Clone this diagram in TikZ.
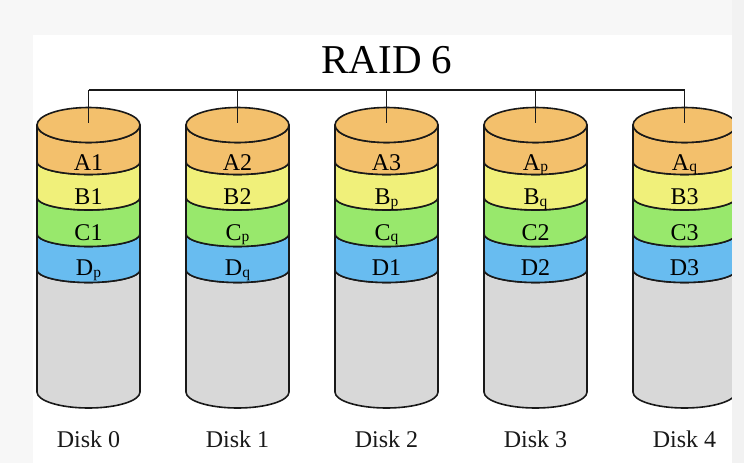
\documentclass[tikz,border=0pt]{standalone}
\usepackage{fontspec}
\setmainfont{Liberation Serif}
\definecolor{cA}{RGB}{243,192,108}
\definecolor{cB}{RGB}{240,240,122}
\definecolor{cC}{RGB}{152,232,108}
\definecolor{cD}{RGB}{104,188,240}
\definecolor{cG}{RGB}{216,216,216}
\definecolor{lineC}{RGB}{25,25,25}
\definecolor{bgTop}{RGB}{247,247,247}
\definecolor{bgRight}{RGB}{242,242,242}
\newcommand{\lowsub}[1]{\raisebox{-1.5pt}{\fontsize{15.5}{15.5}\selectfont #1}}
\newcommand{\band}[5]{%
  \filldraw[fill=#1, edge] (-51.5,#2) -- (-51.5,#4)
    arc[start angle=180,end angle=0,x radius=51.5,y radius=#5]
    -- (51.5,#2)
    arc[start angle=0,end angle=180,x radius=51.5,y radius=#3] -- cycle;}
\begin{document}
\begin{tikzpicture}[x=1pt,y=-1pt,
  edge/.style={draw=lineC, line width=1.6pt, line join=round},
  lab/.style={font=\fontsize{24}{24}\selectfont, text=black, inner sep=0pt, anchor=base},
  dlab/.style={font=\fontsize{24}{24}\selectfont, text=black!90, inner sep=0pt, anchor=base}]
\useasboundingbox (0,0) rectangle (744,463);
\fill[bgTop] (0,0) rectangle (744,463);
\fill[white] (33,35) rectangle (744,463);
\node[font=\fontsize{41}{41}\selectfont, inner sep=0pt, anchor=base] (title) at (387,73) {RAID 6};
\foreach \i/\a/\b/\c/\d in {0/A1/B1/C1/{D\lowsub{p}},
                            1/A2/B2/{C\lowsub{p}}/{D\lowsub{q}},
                            2/A3/{B\lowsub{p}}/{C\lowsub{q}}/D1,
                            3/{A\lowsub{p}}/{B\lowsub{q}}/C2/D2,
                            4/{A\lowsub{q}}/B3/C3/D3}{
  \pgfmathsetmacro\cx{88.5+149*\i}
  \begin{scope}[xshift=\cx pt]
    \band{cG}{270}{12.5}{392}{16}
    \band{cD}{234}{12.5}{270}{12.5}
    \band{cC}{197.5}{12.5}{234}{12.5}
    \band{cB}{162}{12.5}{197.5}{12.5}
    \band{cA}{125}{17.5}{162}{12.5}
    \filldraw[fill=cA, edge] (0,125) ellipse[x radius=51.5, y radius=17.5];
    \coordinate (top\i) at (0,123);
    \coordinate (bar\i) at (0,90);
    \node[lab] (a\i) at (0,170) {\a};
    \node[lab] (b\i) at (0,204.5) {\b};
    \node[lab] (c\i) at (0,240) {\c};
    \node[lab] (d\i) at (0,275.5) {\d};
    \node[dlab] (disk\i) at (0,447) {Disk \i};
  \end{scope}
}
\draw[edge] (bar0) -- (bar4);
\foreach \i in {0,...,4}{\draw[edge] (bar\i) -- (top\i);}
\fill[bgRight] (732,0) rectangle (744,463);
\end{tikzpicture}
\end{document}
